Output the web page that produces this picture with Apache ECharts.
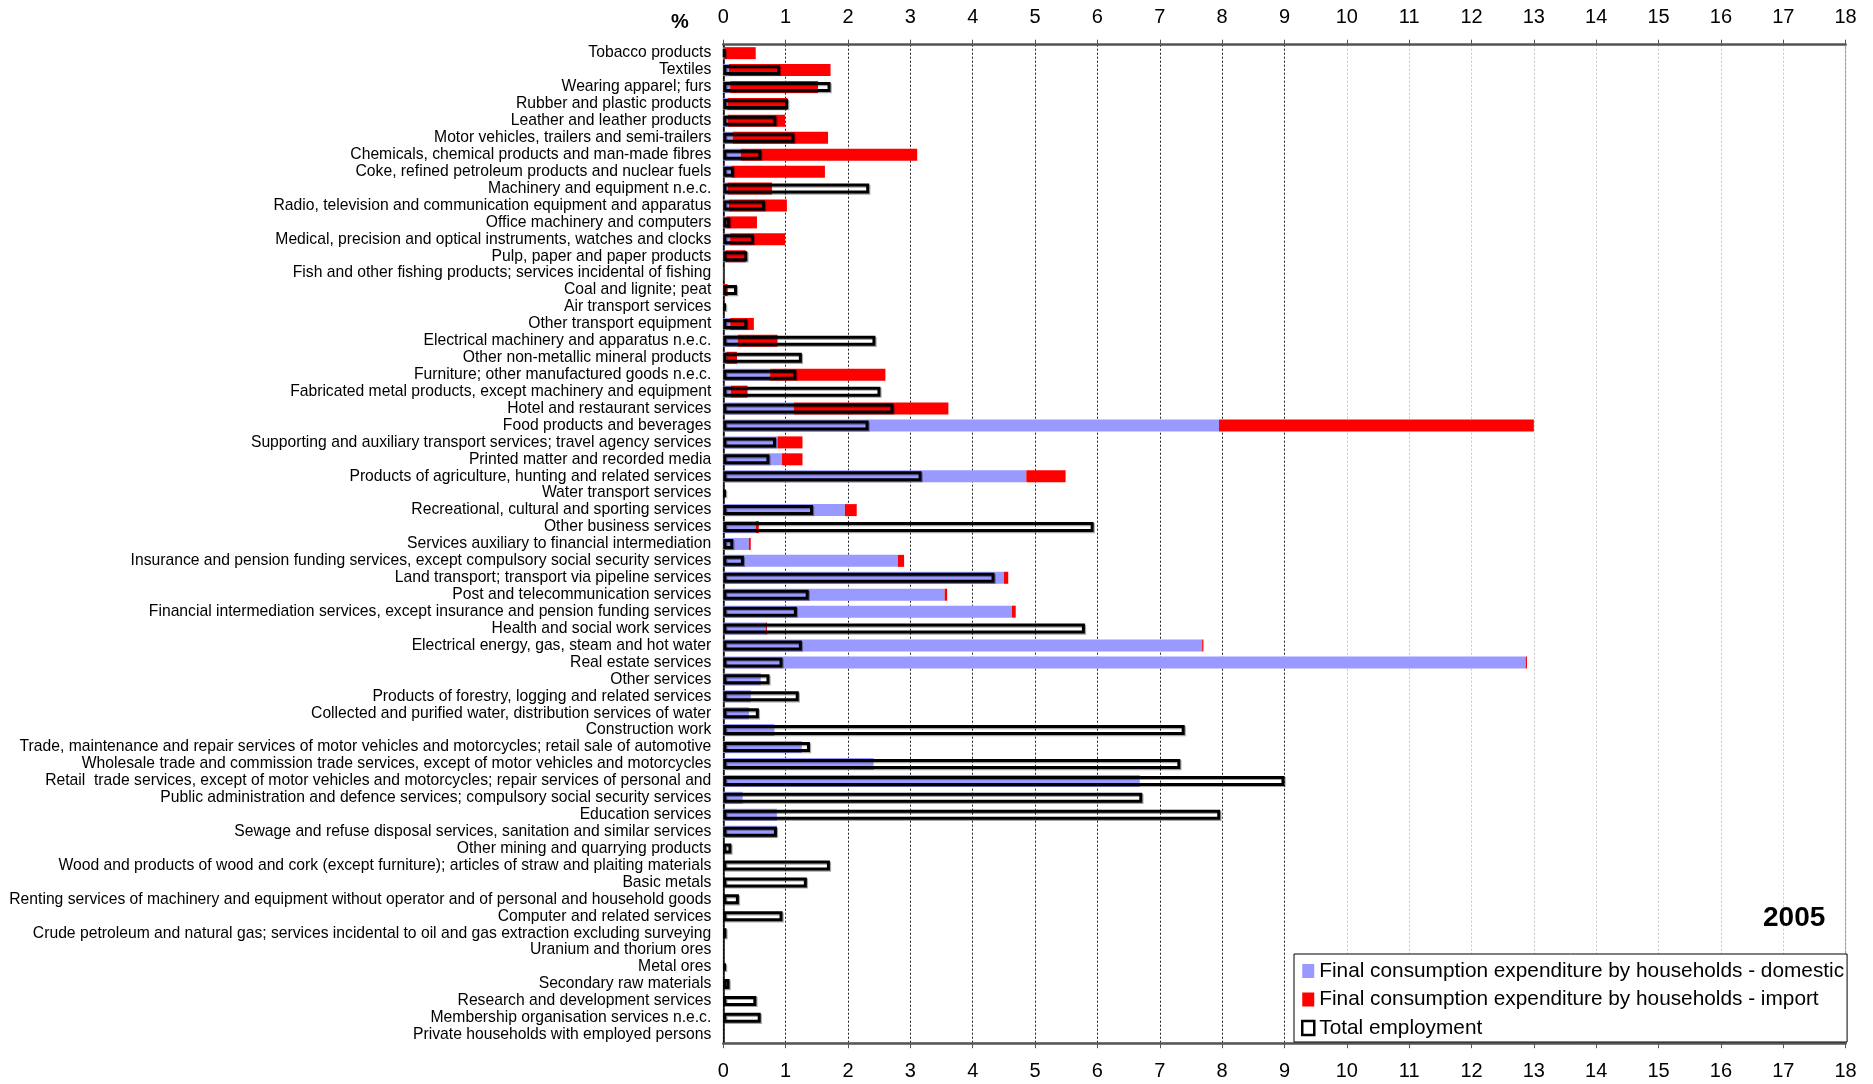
<!DOCTYPE html>
<html>
<head>
<meta charset="utf-8">
<script src="https://cdn.jsdelivr.net/npm/echarts@6/dist/echarts.min.js"></script>
<style>
html,body{margin:0;padding:0;background:#fff;}
#chart{width:1873px;height:1084px;}
</style>
</head>
<body>
<div id="chart"></div>
<script>
const categories = [
"Tobacco products",
"Textiles",
"Wearing apparel; furs",
"Rubber and plastic products",
"Leather and leather products",
"Motor vehicles, trailers and semi-trailers",
"Chemicals, chemical products and man-made fibres",
"Coke, refined petroleum products and nuclear fuels",
"Machinery and equipment n.e.c.",
"Radio, television and communication equipment and apparatus",
"Office machinery and computers",
"Medical, precision and optical instruments, watches and clocks",
"Pulp, paper and paper products",
"Fish and other fishing products; services incidental of fishing",
"Coal and lignite; peat",
"Air transport services",
"Other transport equipment",
"Electrical machinery and apparatus n.e.c.",
"Other non-metallic mineral products",
"Furniture; other manufactured goods n.e.c.",
"Fabricated metal products, except machinery and equipment",
"Hotel and restaurant services",
"Food products and beverages",
"Supporting and auxiliary transport services; travel agency services",
"Printed matter and recorded media",
"Products of agriculture, hunting and related services",
"Water transport services",
"Recreational, cultural and sporting services",
"Other business services",
"Services auxiliary to financial intermediation",
"Insurance and pension funding services, except compulsory social security services",
"Land transport; transport via pipeline services",
"Post and telecommunication services",
"Financial intermediation services, except insurance and pension funding services",
"Health and social work services",
"Electrical energy, gas, steam and hot water",
"Real estate services",
"Other services",
"Products of forestry, logging and related services",
"Collected and purified water, distribution services of water",
"Construction work",
"Trade, maintenance and repair services of motor vehicles and motorcycles; retail sale of automotive",
"Wholesale trade and commission trade services, except of motor vehicles and motorcycles",
"Retail  trade services, except of motor vehicles and motorcycles; repair services of personal and",
"Public administration and defence services; compulsory social security services",
"Education services",
"Sewage and refuse disposal services, sanitation and similar services",
"Other mining and quarrying products",
"Wood and products of wood and cork (except furniture); articles of straw and plaiting materials",
"Basic metals",
"Renting services of machinery and equipment without operator and of personal and household goods",
"Computer and related services",
"Crude petroleum and natural gas; services incidental to oil and gas extraction excluding surveying",
"Uranium and thorium ores",
"Metal ores",
"Secondary raw materials",
"Research and development services",
"Membership organisation services n.e.c.",
"Private households with employed persons"
];

const domestic = [
0.02,0.09,0.11,0.07,0.07,0.15,0.28,0.13,0.07,0.09,0.05,0.11,0.04,0,0.01,0,
0.11,0.23,0.05,0.75,0.12,1.13,7.95,0.87,0.94,4.86,0,1.95,0.52,0.41,
2.80,4.50,3.55,4.63,0.68,7.68,12.87,0.60,0.44,0.41,0.82,1.26,2.41,6.68,0.31,0.86,0.86,
0,0,0,0,0,0,0,0,0,0,0,0
];

const imported = [
0.50,1.63,1.41,0.96,0.92,1.53,2.83,1.50,0.71,0.93,0.49,0.88,0.32,0.01,0.06,0,
0.38,0.64,0.17,1.85,0.27,2.48,5.05,0.40,0.33,0.63,0,0.19,0.05,0.03,
0.10,0.07,0.04,0.06,0.02,0.02,0.02,0,0,0,0,0,0,0,0,0,0,
0,0,0,0,0,0,0,0,0,0,0,0
];

const employment = [
0.03,0.91,1.72,1.04,0.85,1.14,0.61,0.17,2.34,0.67,0.11,0.49,0.385,0,0.22,0.04,
0.385,2.44,1.26,1.17,2.52,2.73,2.33,0.845,0.74,3.18,0.04,1.44,5.94,0.16,
0.33,4.35,1.37,1.18,5.80,1.26,0.95,0.74,1.21,0.57,7.40,1.39,7.33,9.00,6.72,7.97,0.86,
0.13,1.71,1.34,0.25,0.95,0.05,0,0.04,0.10,0.53,0.60,0
];

const tickValues = [0,1,2,3,4,5,6,7,8,9,10,11,12,13,14,15,16,17,18];
const seriesNames = [
"Final consumption expenditure by households - domestic",
"Final consumption expenditure by households - import",
"Total employment"
];
const yearLabel = "2005";
const unitLabel = "%";

const FONT = "'Liberation Sans', Arial, sans-serif";
const NARROW = "'Liberation Sans Narrow', 'Arial Narrow', 'Liberation Sans', sans-serif";

const gridColors = tickValues.map(v => v === 0 ? '#000' : (v <= 9 ? '#222' : '#c4c4c4'));

const chart = echarts.init(document.getElementById('chart'), null, {renderer: 'canvas'});

const xCommon = {
  type: 'value',
  min: tickValues[0],
  max: tickValues[tickValues.length - 1],
  interval: 1,
  axisLine: {show: true, onZero: false, lineStyle: {color: '#555', width: 2.5}},
  axisTick: {show: true, length: 5, lineStyle: {color: '#555', width: 1}},
  axisLabel: {fontFamily: NARROW, fontSize: 20, color: '#000', margin: 17}
};

chart.setOption({
  animation: false,
  backgroundColor: '#fff',
  grid: {
    left: 723.3, right: 27.4, top: 44.7, bottom: 40.8,
    show: true, borderColor: '#888', borderWidth: 1, backgroundColor: 'transparent'
  },
  xAxis: [
    Object.assign({}, xCommon, {
      position: 'bottom',
      axisLabel: Object.assign({}, xCommon.axisLabel, {margin: 18}),
      splitLine: {show: true, lineStyle: {color: gridColors, type: [2, 2], width: 1}}
    }),
    Object.assign({}, xCommon, {
      position: 'top',
      splitLine: {show: false}
    })
  ],
  yAxis: [
    {
      type: 'category',
      data: categories,
      inverse: true,
      axisLine: {show: true, lineStyle: {color: '#000', width: 1.5}},
      axisTick: {show: false},
      axisLabel: {interval: 0, fontFamily: FONT, fontSize: 15.7, color: '#000', margin: 12,
                  padding: [2.4, 0, 0, 0]}
    },
    {
      type: 'category',
      data: categories,
      inverse: true,
      show: false
    }
  ],
  legend: {
    orient: 'vertical',
    left: 1294,
    top: 954,
    padding: [6.5, 3, 3.5, 7],
    itemGap: 7.5,
    itemWidth: 12,
    itemHeight: 14,
    backgroundColor: '#fff',
    borderColor: '#000',
    borderWidth: 1,
    textStyle: {fontFamily: FONT, fontSize: 20.8, color: '#000'},
    data: [
      {name: seriesNames[0], icon: 'rect', itemStyle: {color: '#9999ff', borderWidth: 0}},
      {name: seriesNames[1], icon: 'rect', itemStyle: {color: '#ff0000', borderWidth: 0}},
      {name: seriesNames[2], icon: 'rect', itemStyle: {color: '#fff', borderColor: '#000', borderWidth: 2.5}}
    ]
  },
  graphic: [
    {type: 'text', left: 1763, top: 904, z: 100,
     style: {text: yearLabel, font: "bold 28px 'Liberation Sans', Arial, sans-serif", fill: '#000'}},
    {type: 'text', left: 671, top: 12, z: 100,
     style: {text: unitLabel, font: "bold 20px 'Liberation Sans', Arial, sans-serif", fill: '#000'}}
  ],
  series: [
    {
      name: seriesNames[0], type: 'bar', stack: 'fce', xAxisIndex: 0, yAxisIndex: 0,
      barWidth: 12, itemStyle: {color: '#9999ff'}, data: domestic
    },
    {
      name: seriesNames[1], type: 'bar', stack: 'fce', xAxisIndex: 0, yAxisIndex: 0,
      barWidth: 12, itemStyle: {color: '#ff0000'}, data: imported
    },
    {
      name: seriesNames[2], type: 'bar', xAxisIndex: 0, yAxisIndex: 1, z: 5,
      barWidth: 10,
      itemStyle: {
        color: 'rgba(0,0,0,0)', borderColor: '#000', borderWidth: 3,
        shadowColor: 'rgba(0,0,0,0.35)', shadowBlur: 0, shadowOffsetX: 1.2, shadowOffsetY: 1.2
      },
      data: employment.map(v => v === 0 ? null : v)
    }
  ]
});
</script>
</body>
</html>
